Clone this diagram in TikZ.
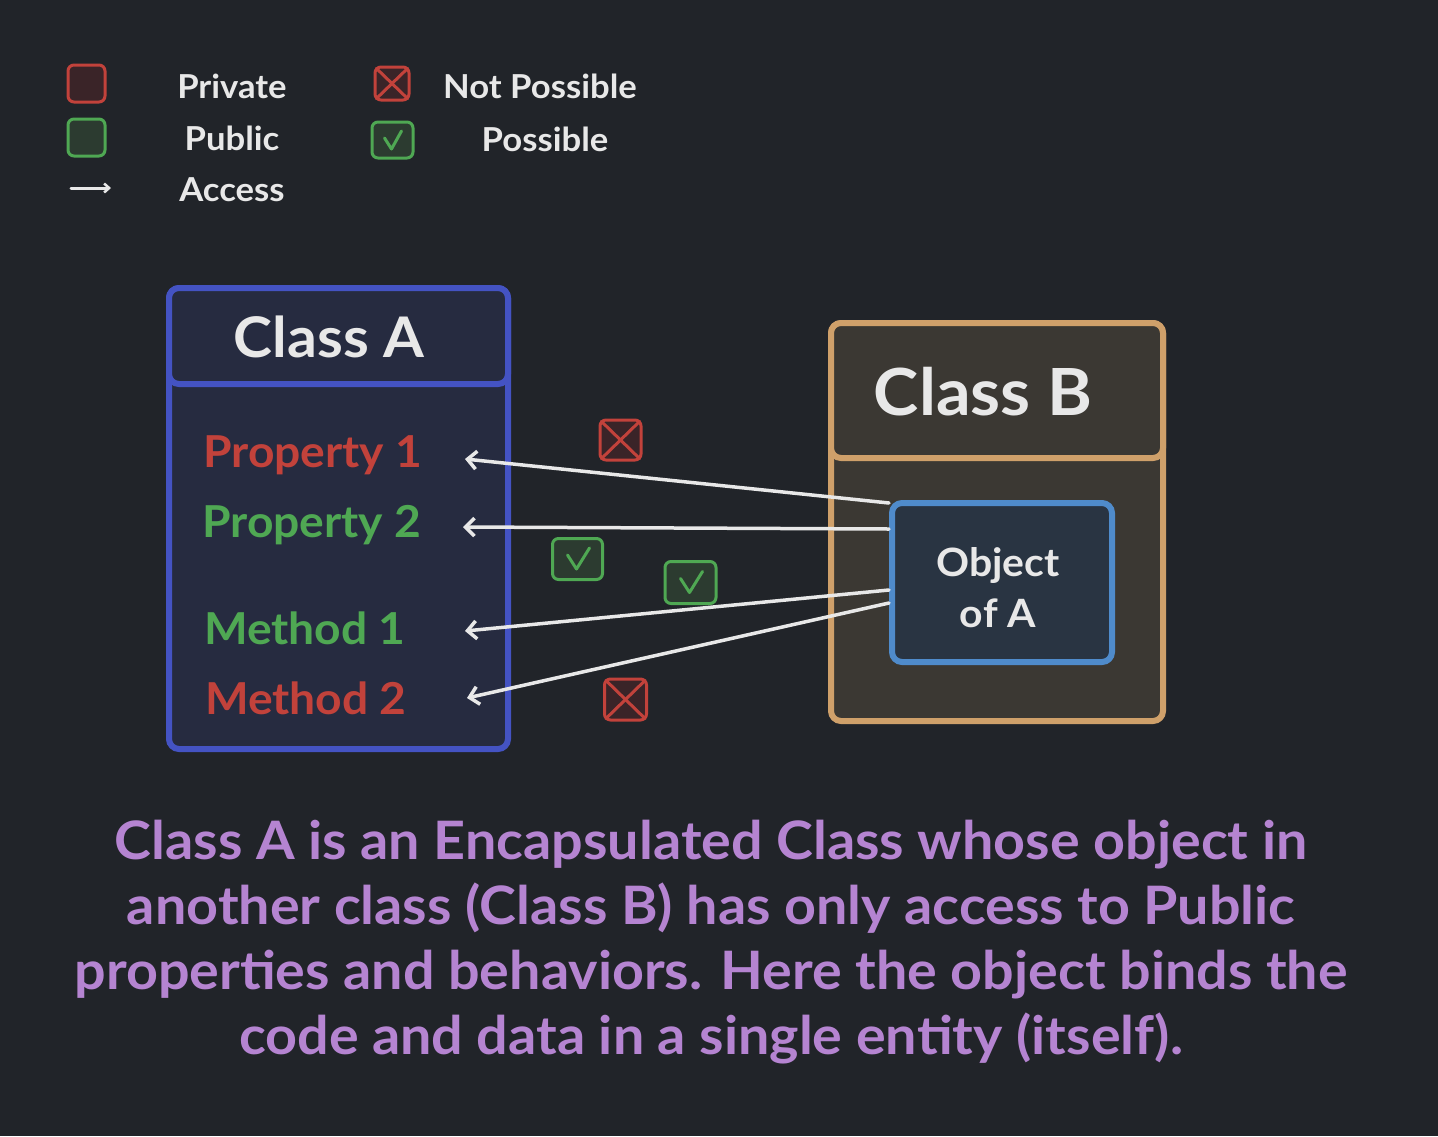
\documentclass[tikz,border=0pt]{standalone}
\usepackage{fontspec}
\setmainfont{Lato}[FakeStretch=1.05]
\usetikzlibrary{arrows.meta}
\definecolor{bg}{HTML}{212429}
\definecolor{afill}{HTML}{262B40}
\definecolor{ablue}{HTML}{4453C3}
\definecolor{bfill}{HTML}{3B3833}
\definecolor{btan}{HTML}{CFA06A}
\definecolor{ofill}{HTML}{293442}
\definecolor{oblue}{HTML}{4F8BCB}
\definecolor{redc}{HTML}{C2423B}
\definecolor{redfill}{HTML}{3A2428}
\definecolor{greenc}{HTML}{4FA853}
\definecolor{greenfill}{HTML}{2C3B30}
\definecolor{textw}{HTML}{E8E8E8}
\definecolor{purp}{HTML}{B584D1}
\begin{document}
\begin{tikzpicture}[x=1pt,y=-1pt,
  legtxt/.style={text=textw, font=\bfseries\fontsize{33}{38}\selectfont, inner sep=0},
  legbox/.style={draw, line width=3pt, rounded corners=6pt, inner sep=0},
  redbox/.style={legbox, draw=redc, fill=redfill},
  greenbox/.style={legbox, draw=greenc, fill=greenfill},
  item/.style={font=\bfseries\fontsize{44}{50}\selectfont, anchor=west, inner sep=0},
  access/.style={draw=textw, line width=3.5pt, line cap=round, -{Straight Barb[length=9pt,width=18pt,line width=3.5pt]}},
  markln/.style={line width=3pt, line cap=round, line join=round}
]
\fill[bg] (0,0) rectangle (1438,1136);
\useasboundingbox (0,0) rectangle (1438,1136);

% ---------- legend ----------
\node[redbox, minimum width=37pt, minimum height=37pt] (lpriv) at (86.5,83.5) {};
\node[greenbox, minimum width=37pt, minimum height=37pt] (lpub) at (86.5,137.5) {};
\coordinate (la1) at (71,188);
\coordinate (la2) at (111,188);
\draw[draw=textw, line width=3pt, line cap=round, -{Straight Barb[length=5pt,width=9pt,line width=2.5pt]}] (la1) -- (la2);
\node[legtxt] (tpriv) at (232,86) {Private};
\node[legtxt] (tpub) at (232,138) {Public};
\node[legtxt] (tacc) at (232,190) {Access};

\node[redbox, minimum width=34pt, minimum height=33pt] (lnot) at (392,83.5) {};
\draw[markln, redc] ([shift={(3pt,-3pt)}]lnot.north west) -- ([shift={(-3pt,3pt)}]lnot.south east);
\draw[markln, redc] ([shift={(-3pt,-3pt)}]lnot.north east) -- ([shift={(3pt,3pt)}]lnot.south west);
\node[greenbox, minimum width=41pt, minimum height=36pt] (lyes) at (392.5,140) {};
\draw[markln, greenc] ([shift={(-8pt,2pt)}]lyes.center) -- ([shift={(-1pt,-9pt)}]lyes.center) -- ([shift={(9pt,9pt)}]lyes.center);
\node[legtxt] (tnot) at (540,86) {Not Possible};
\node[legtxt] (tyes) at (545,139) {Possible};

% ---------- Class A ----------
\node[draw=ablue, fill=afill, line width=6pt, rounded corners=10pt, minimum width=339pt, minimum height=461pt, inner sep=0] (classA) at (338.5,518.5) {};
\node[draw=ablue, fill=afill, line width=6pt, rounded corners=10pt, minimum width=339pt, minimum height=96pt, inner sep=0] (headA) at (338.5,336) {};
\node[text=textw, font=\bfseries\fontsize{56}{64}\selectfont, inner sep=0] (titleA) at (329,337) {Class A};

\node[item, text=redc] (p1) at (203,455) {Property 1};
\node[item, text=greenc] (p2) at (202,525) {Property 2};
\node[item, text=greenc] (m1) at (204,628) {Method 1};
\node[item, text=redc] (m2) at (205,698) {Method 2};

% ---------- Class B ----------
\node[draw=btan, fill=bfill, line width=6pt, rounded corners=10pt, minimum width=332pt, minimum height=398pt, inner sep=0] (classB) at (997,522) {};
\node[draw=btan, fill=bfill, line width=6pt, rounded corners=10pt, minimum width=332pt, minimum height=135pt, inner sep=0] (headB) at (997,390.5) {};
\node[text=textw, font=\bfseries\fontsize{65}{72}\selectfont, inner sep=0] (titleB) at (983,392) {Class B};

\node[draw=oblue, fill=ofill, line width=6pt, rounded corners=10pt, minimum width=220pt, minimum height=159pt, inner sep=0] (obj) at (1002,582.5) {};
\node[text=textw, font=\bfseries\fontsize{39}{51}\selectfont, align=center, inner sep=0] (objtxt) at (998,588) {Object\\of A};

% ---------- access arrows ----------
\coordinate (t1) at (465,459);
\coordinate (t2) at (463,527);
\coordinate (t3) at (465,631);
\coordinate (t4) at (467,698);
\draw[access] ([yshift=-3pt]obj.north west) -- (t1);
\draw[access] ([yshift=-29pt]obj.north west) -- (t2);
\draw[access] ([yshift=-90pt]obj.north west) -- (t3);
\draw[access] ([yshift=-103pt]obj.north west) -- (t4);

% ---------- marks ----------
\node[redbox, minimum width=41pt, minimum height=40pt] (x1) at (620.5,440) {};
\draw[markln, redc] ([shift={(3pt,-3pt)}]x1.north west) -- ([shift={(-3pt,3pt)}]x1.south east);
\draw[markln, redc] ([shift={(-3pt,-3pt)}]x1.north east) -- ([shift={(3pt,3pt)}]x1.south west);

\node[greenbox, minimum width=50pt, minimum height=41pt] (c1) at (577.5,559) {};
\draw[markln, greenc] ([shift={(-10pt,4pt)}]c1.center) -- ([shift={(-1pt,-10pt)}]c1.center) -- ([shift={(12pt,11pt)}]c1.center);

\node[greenbox, minimum width=51pt, minimum height=42pt] (c2) at (690.5,582.5) {};
\draw[markln, greenc] ([shift={(-10pt,4pt)}]c2.center) -- ([shift={(-1pt,-10pt)}]c2.center) -- ([shift={(12pt,11pt)}]c2.center);

\node[redbox, minimum width=42pt, minimum height=41pt] (x2) at (625.5,699.5) {};
\draw[markln, redc] ([shift={(3pt,-3pt)}]x2.north west) -- ([shift={(-3pt,3pt)}]x2.south east);
\draw[markln, redc] ([shift={(-3pt,-3pt)}]x2.north east) -- ([shift={(3pt,3pt)}]x2.south west);

% ---------- caption ----------
\node[text=purp, font=\bfseries\fontsize{53}{65}\selectfont, align=center, inner sep=0] (cap) at (711,942) {Class A is an Encapsulated Class whose object in\\another class (Class B) has only access to Public\\properties and behaviors. Here the object binds the\\code and data in a single entity (itself).};
\end{tikzpicture}
\end{document}
